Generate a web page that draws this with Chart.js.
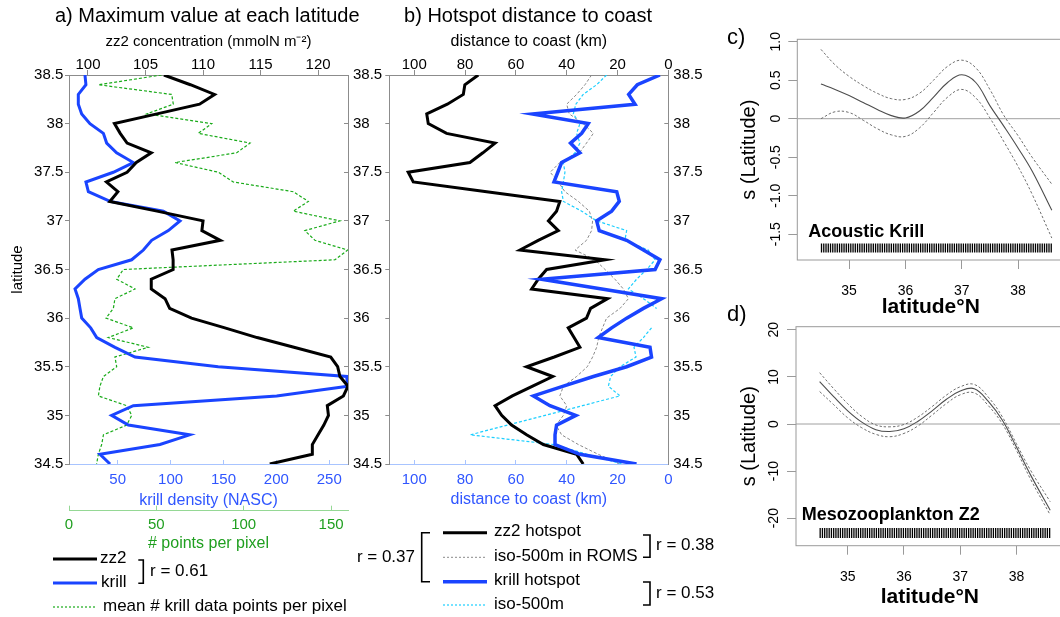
<!DOCTYPE html>
<html>
<head>
<meta charset="utf-8">
<script src="https://cdn.jsdelivr.net/npm/chart.js@4.4.1/dist/chart.umd.min.js"></script>
<style>
  html, body { margin: 0; padding: 0; background: #fff; overflow: hidden; }
  #wrap { position: relative; width: 1060px; height: 617px; overflow: hidden; background: #fff; }
  #wrap canvas { position: absolute; }
</style>
</head>
<body>
<div id="wrap">
  <canvas id="panelA" width="400" height="617" style="left:0;top:0;width:400px;height:617px"></canvas>
  <canvas id="panelB" width="365" height="617" style="left:355px;top:0;width:365px;height:617px"></canvas>
  <canvas id="panelC" width="350" height="330" style="left:720px;top:0;width:350px;height:330px"></canvas>
  <canvas id="panelD" width="350" height="317" style="left:720px;top:300px;width:350px;height:317px"></canvas>
</div>
<script>
// ---- latitude bins (deg N), north to south ----
const latitude = [38.5,38.4,38.3,38.2,38.1,38.0,37.9,37.8,37.7,37.6,37.5,37.4,37.3,37.2,37.1,37.0,36.9,36.8,36.7,36.6,
                  36.5,36.4,36.3,36.2,36.1,36.0,35.9,35.8,35.7,35.6,35.5,35.4,35.3,35.2,35.1,35.0,34.9,34.8,34.7,34.6,34.5];

// ---- a) maximum value at each latitude ----
const zz2Max = [106.6,108.9,111.0,109.7,106.0,102.3,102.8,103.4,105.5,104.2,103.4,101.6,102.6,101.9,106.0,110.0,109.9,111.5,107.3,107.4,
                107.4,105.5,105.5,106.7,107.1,109.0,111.9,114.7,117.9,121.1,121.7,121.9,122.6,122.2,120.8,120.9,120.5,120.0,119.5,119.5,115.8];
const krillMax = [19.1,20.0,12.8,12.8,16.0,23.8,36.5,39.6,49.0,64.8,45.9,20.0,22.3,42.8,93.2,108.9,97.9,82.1,74.3,63.2,
                  31.7,19.1,9.7,12.8,14.4,16.0,24.5,30.2,47.5,66.4,145.0,266.4,267.5,200.3,64.8,44.3,60.1,118.0,90.0,33.3,42.8];
const krillPointsPerPixel = [53.0,16.8,58.8,59.7,44.5,81.7,74.0,103.6,96.0,60.7,85.5,94.0,128.4,137.0,128.4,155.0,135.0,140.8,159.5,152.3,
                             31.1,27.3,37.8,26.3,25.4,21.2,36.8,22.5,45.4,26.3,27.3,19.7,17.7,16.8,33.0,35.9,33.0,19.7,18.7,16.8,15.8];

// ---- b) hotspot distance to coast (km) ----
const zz2HotspotKm = [74.8,80.1,80.7,87.0,95.1,94.5,87.3,68.2,73.0,78.1,102.4,100.4,71.5,42.7,44.0,47.2,43.3,51.2,58.4,24.9,
                      47.9,51.2,53.8,23.9,30.6,32.2,39.4,37.1,34.8,44.9,55.8,45.5,53.4,61.4,68.2,65.6,61.7,55.8,49.2,36.1,33.5];
const iso500RomsKm = [30.2,32.8,36.1,40.0,39.0,33.5,29.5,32.2,35.0,42.7,46.5,43.3,40.7,35.4,31.1,29.8,30.2,32.2,36.7,28.9,
                      24.9,21.0,17.7,15.7,19.0,24.3,25.9,27.4,28.2,29.8,31.9,36.1,41.3,42.7,40.0,41.3,44.2,42.0,35.4,27.6,19.0];
const krillHotspotKm = [3.3,12.2,15.6,13.1,53.5,31.5,34.1,38.5,34.8,42.0,43.5,45.0,20.3,19.3,22.3,28.2,27.2,16.4,9.8,3.3,
                        5.2,49.9,26.2,2.6,9.8,16.4,22.3,27.6,7.2,6.6,16.4,29.5,41.3,53.1,46.6,36.4,44.0,44.6,44.6,34.8,12.5];
const iso500Km = [24.3,28.2,33.5,36.4,37.4,34.8,36.1,34.8,36.7,41.3,40.7,41.3,42.0,41.3,34.1,28.2,16.4,17.1,7.9,5.2,
                  8.5,12.5,15.7,9.8,4.6,null,6.6,9.8,13.5,12.7,19.0,22.7,23.6,19.0,33.8,48.5,63.3,78.0,45.0,32.0,18.0];

// ---- c, d) GAM smooth of latitude with +/- 2 SE bands ----
const gamLat = [34.5,34.75,35.0,35.25,35.5,35.75,36.0,36.25,36.5,36.75,37.0,37.25,37.5,37.75,38.0,38.25,38.6];
const krillFit   = [0.45,0.38,0.30,0.21,0.12,0.04,0.01,0.10,0.28,0.47,0.57,0.47,0.17,-0.10,-0.38,-0.68,-1.19];
const krillUpper = [0.90,0.70,0.55,0.43,0.33,0.26,0.25,0.33,0.50,0.68,0.76,0.66,0.38,0.04,-0.22,-0.50,-0.85];
const krillLower = [0.00,0.09,0.08,-0.02,-0.13,-0.21,-0.23,-0.12,0.08,0.28,0.38,0.27,0.01,-0.30,-0.62,-0.98,-1.55];
const z2Fit   = [9.0,5.8,2.8,0.4,-1.2,-1.6,-1.0,0.6,2.8,5.2,7.0,7.5,4.8,0.8,-4.9,-10.8,-18.3];
const z2Upper = [10.9,7.5,4.3,1.6,-0.2,-0.6,-0.1,1.5,3.7,6.1,7.9,8.4,5.7,1.5,-4.2,-9.8,-16.5];
const z2Lower = [6.9,4.1,1.3,-0.8,-2.2,-2.7,-2.0,-0.4,1.9,4.3,6.2,6.6,3.9,0.0,-5.6,-11.7,-19.3];
// sampled latitudes shown as a rug
const rugLat = [34.51,34.55,34.59,34.63,34.67,34.71,34.75,34.79,34.83,34.87,34.91,34.95,34.99,35.03,35.07,35.11,35.15,35.19,35.23,35.27,
                35.31,35.35,35.39,35.43,35.47,35.51,35.55,35.59,35.63,35.67,35.71,35.75,35.79,35.83,35.87,35.91,35.95,35.99,36.03,36.07,
                36.11,36.15,36.19,36.23,36.27,36.31,36.35,36.39,36.43,36.47,36.51,36.55,36.59,36.63,36.67,36.71,36.75,36.79,36.83,36.87,
                36.91,36.95,36.99,37.03,37.07,37.11,37.15,37.19,37.23,37.27,37.31,37.35,37.39,37.43,37.47,37.51,37.55,37.59,37.63,37.67,
                37.71,37.75,37.79,37.83,37.87,37.91,37.95,37.99,38.03,38.07,38.11,38.15,38.19,38.23,38.27,38.31,38.35,38.39,38.43,38.47,
                38.51,38.55,38.59];

// ---- styling ----
const FONT = "'Liberation Sans', Arial, Helvetica, sans-serif";
const GREY_AX = '#8c8c8c';
const BLUE = '#1a44ff';
const BLUE_TXT = '#3056ff';
const BLUE_AX = '#a8c4ff';
const GREEN = '#1aab1a';
const GREEN_TXT = '#1f9f1f';
const GREEN_AX = '#95d895';
const CYAN = '#1ccfff';
const DASH_GREY = '#8a8a8a';

Chart.defaults.font.family = FONT;
Chart.defaults.color = '#000';

const f = (size, weight) => ({ family: FONT, size: size, weight: weight || 'normal', lineHeight: 1.2 });
const latLabel = v => String(v);
const alongLat = (values) => values.map((v, i) => ({ x: v, y: latitude[i] }));
const alongGam = (values) => values.map((v, i) => ({ x: gamLat[i], y: v }));

function text(ctx, s, x, y, size, opt) {
  opt = opt || {};
  ctx.save();
  ctx.font = (opt.weight || 'normal') + ' ' + size + 'px ' + FONT;
  ctx.fillStyle = opt.color || '#000';
  ctx.textAlign = opt.align || 'left';
  ctx.textBaseline = 'middle';
  ctx.fillText(s, x, y);
  ctx.restore();
}
function poly(ctx, pts, color, width, dash) {
  ctx.save();
  ctx.strokeStyle = color;
  ctx.lineWidth = width;
  ctx.setLineDash(dash || []);
  ctx.beginPath();
  ctx.moveTo(pts[0][0], pts[0][1]);
  for (let i = 1; i < pts.length; i++) ctx.lineTo(pts[i][0], pts[i][1]);
  ctx.stroke();
  ctx.restore();
}

const baseOptions = {
  responsive: false,
  animation: false,
  devicePixelRatio: 1,
  events: [],
  plugins: { legend: { display: false }, tooltip: { enabled: false } }
};
const lineStyle = (color, width, dash) => ({
  borderColor: color, borderWidth: width, borderDash: dash || [],
  showLine: true, pointRadius: 0, pointHoverRadius: 0, fill: false, tension: 0
});

// ================= panel a =================
new Chart(document.getElementById('panelA'), {
  type: 'scatter',
  data: {
    datasets: [
      Object.assign({ label: 'zz2', data: alongLat(zz2Max), xAxisID: 'xZ', yAxisID: 'y' }, lineStyle('#000', 3)),
      Object.assign({ label: 'krill', data: alongLat(krillMax), xAxisID: 'xK', yAxisID: 'y' }, lineStyle(BLUE, 3)),
      Object.assign({ label: 'mean # krill data points per pixel', data: alongLat(krillPointsPerPixel), xAxisID: 'xP', yAxisID: 'y' },
                    lineStyle(GREEN, 1.2, [3, 2]))
    ]
  },
  options: Object.assign({}, baseOptions, {
    layout: { padding: 0 },
    scales: {
      xZ: {
        type: 'linear', position: 'top', min: 98.35, max: 122.6,
        ticks: { stepSize: 5, includeBounds: false, padding: -4, font: f(15), color: '#000' },
        grid: { drawOnChartArea: false, tickLength: 5, color: GREY_AX },
        border: { color: GREY_AX },
        title: { display: true, text: 'zz2 concentration (mmolN m\u207B\u00B2)', font: f(15), padding: { top: 33, bottom: 0 } },
        afterFit: s => { s.height = 75; }
      },
      xK: {
        type: 'linear', position: 'bottom', weight: 0, min: 4, max: 267.7,
        ticks: { stepSize: 50, includeBounds: false, padding: 11, font: f(15), color: BLUE_TXT },
        grid: { drawOnChartArea: false, tickLength: -4, color: BLUE_AX },
        border: { color: BLUE_AX },
        title: { display: true, text: 'krill density (NASC)', color: BLUE_TXT, font: f(16), padding: { top: 0, bottom: 1 } },
        afterFit: s => { s.height = 46.7; }
      },
      xP: {
        type: 'linear', position: 'bottom', weight: 1, min: 0, max: 159.7,
        ticks: { stepSize: 50, includeBounds: false, padding: 10.3, font: f(15), color: GREEN_TXT },
        grid: { drawOnChartArea: false, tickLength: -5, color: GREEN_AX },
        border: { color: GREEN_AX },
        title: { display: true, text: '# points per pixel', color: GREEN_TXT, font: f(16), padding: { top: 0, bottom: 63.4 } },
        afterFit: s => { s.height = 106.3; }
      },
      y: {
        type: 'linear', position: 'left', min: 34.5, max: 38.5,
        ticks: { stepSize: 0.5, padding: 1.7, font: f(15), callback: latLabel },
        grid: { drawOnChartArea: false, tickLength: 4, color: GREY_AX },
        border: { color: GREY_AX },
        title: { display: true, text: 'latitude', font: f(15), padding: { top: 9.3, bottom: 0 } },
        afterFit: s => { s.width = 69; }
      },
      y2: {
        type: 'linear', position: 'right', min: 34.5, max: 38.5,
        ticks: { stepSize: 0.5, padding: 9, font: f(15), callback: latLabel },
        grid: { drawOnChartArea: false, tickLength: -4, color: GREY_AX },
        border: { color: GREY_AX },
        afterFit: s => { s.width = 52; }
      }
    }
  }),
  plugins: [{
    id: 'panelAText',
    afterDraw(chart) {
      const ctx = chart.ctx;
      text(ctx, 'a) Maximum value at each latitude', 55, 16, 20);
      poly(ctx, [[53, 559], [97, 559]], '#000', 3);
      text(ctx, 'zz2', 100, 558, 17);
      poly(ctx, [[53, 583], [97, 583]], BLUE, 3);
      text(ctx, 'krill', 101, 582, 17);
      poly(ctx, [[138.3, 560], [143.3, 560], [143.3, 583.3], [138.3, 583.3]], '#000', 1.6);
      text(ctx, 'r = 0.61', 150, 571, 17);
      poly(ctx, [[53, 607], [97, 607]], GREEN, 1.2, [2, 2]);
      text(ctx, 'mean # krill data points per pixel', 103, 606, 17);
    }
  }]
});

// ================= panel b =================
const OXB = 355;
new Chart(document.getElementById('panelB'), {
  type: 'scatter',
  data: {
    datasets: [
      Object.assign({ label: 'krill hotspot', data: alongLat(krillHotspotKm), xAxisID: 'xB', yAxisID: 'yL' }, lineStyle(BLUE, 3.5)),
      Object.assign({ label: 'zz2 hotspot', data: alongLat(zz2HotspotKm), xAxisID: 'xT', yAxisID: 'yL' }, lineStyle('#000', 3)),
      Object.assign({ label: 'iso-500m', data: alongLat(iso500Km), xAxisID: 'xB', yAxisID: 'yL' }, lineStyle(CYAN, 1.2, [3, 2])),
      Object.assign({ label: 'iso-500m in ROMS', data: alongLat(iso500RomsKm), xAxisID: 'xT', yAxisID: 'yL' }, lineStyle(DASH_GREY, 1, [3, 2]))
    ]
  },
  options: Object.assign({}, baseOptions, {
    layout: { padding: 0 },
    scales: {
      xT: {
        type: 'linear', position: 'top', min: 0, max: 109.84, reverse: true,
        ticks: { stepSize: 20, includeBounds: false, padding: -4, font: f(15), color: '#000' },
        grid: { drawOnChartArea: false, tickLength: 5, color: GREY_AX },
        border: { color: GREY_AX },
        title: { display: true, text: 'distance to coast (km)', font: f(16), padding: { top: 32, bottom: 0 } },
        afterFit: s => { s.height = 75; }
      },
      xB: {
        type: 'linear', position: 'bottom', min: 0, max: 109.84, reverse: true,
        ticks: { stepSize: 20, includeBounds: false, padding: 11, font: f(15), color: BLUE_TXT },
        grid: { drawOnChartArea: false, tickLength: -4, color: BLUE_AX },
        border: { color: BLUE_AX },
        title: { display: true, text: 'distance to coast (km)', color: BLUE_TXT, font: f(16), padding: { top: 0, bottom: 107.4 } },
        afterFit: s => { s.height = 153; }
      },
      yL: {
        type: 'linear', position: 'left', min: 34.5, max: 38.5,
        ticks: { stepSize: 0.5, display: false },
        grid: { drawOnChartArea: false, tickLength: 4, color: GREY_AX },
        border: { color: GREY_AX },
        afterFit: s => { s.width = 34.3; }
      },
      yR: {
        type: 'linear', position: 'right', min: 34.5, max: 38.5,
        ticks: { stepSize: 0.5, padding: 9, font: f(15), callback: latLabel },
        grid: { drawOnChartArea: false, tickLength: -4, color: GREY_AX },
        border: { color: GREY_AX },
        afterFit: s => { s.width = 51.7; }
      }
    }
  }),
  plugins: [{
    id: 'panelBText',
    afterDraw(chart) {
      const ctx = chart.ctx;
      const X = v => v - OXB;
      text(ctx, 'b) Hotspot distance to coast', X(528), 16, 20, { align: 'center' });
      poly(ctx, [[X(443), 532.7], [X(487), 532.7]], '#000', 3);
      text(ctx, 'zz2 hotspot', X(494), 531, 17);
      poly(ctx, [[X(443), 557.3], [X(487), 557.3]], DASH_GREY, 1, [2, 2]);
      text(ctx, 'iso-500m in ROMS', X(494), 556.5, 17);
      poly(ctx, [[X(443), 581.7], [X(487), 581.7]], BLUE, 3.5);
      text(ctx, 'krill hotspot', X(494), 580.5, 17);
      poly(ctx, [[X(443), 605], [X(487), 605]], CYAN, 1.2, [2, 2]);
      text(ctx, 'iso-500m', X(494), 604.5, 17);
      poly(ctx, [[X(430), 532.7], [X(421.7), 532.7], [X(421.7), 581.7], [X(430), 581.7]], '#000', 1.6);
      text(ctx, 'r = 0.37', X(415), 557.5, 17, { align: 'right' });
      poly(ctx, [[X(643), 535], [X(650), 535], [X(650), 557.3], [X(643), 557.3]], '#000', 1.6);
      text(ctx, 'r = 0.38', X(656), 545.5, 17);
      poly(ctx, [[X(643), 582], [X(650), 582], [X(650), 605], [X(643), 605]], '#000', 1.6);
      text(ctx, 'r = 0.53', X(656), 593, 17);
    }
  }]
});

// ================= panels c and d (GAM smooths) =================
const frame = {
  id: 'frame',
  beforeDatasetsDraw(chart) {
    const a = chart.chartArea, ctx = chart.ctx;
    ctx.save();
    ctx.strokeStyle = '#9a9a9a';
    ctx.lineWidth = 1;
    ctx.strokeRect(a.left, a.top, a.right - a.left, a.bottom - a.top);
    ctx.restore();
  }
};

function gamChart(canvasId, cfg) {
  const rug = rugLat.map(x => ({ x: x, y: cfg.rugY }));
  return new Chart(document.getElementById(canvasId), {
    type: 'scatter',
    data: {
      datasets: [
        Object.assign({ label: 'fit', data: alongGam(cfg.fit) }, lineStyle('#4d4d4d', 1.1), { tension: 0.4 }),
        Object.assign({ label: 'upper', data: alongGam(cfg.upper) }, lineStyle('#6f6f6f', 1, [2.5, 2]), { tension: 0.4 }),
        Object.assign({ label: 'lower', data: alongGam(cfg.lower) }, lineStyle('#6f6f6f', 1, [2.5, 2]), { tension: 0.4 }),
        Object.assign({ label: 'zero', data: [{ x: cfg.xMin, y: 0 }, { x: cfg.xMax, y: 0 }] }, lineStyle('#a0a0a0', 1)),
        { label: 'rug', data: rug, showLine: false, pointStyle: 'line', pointRotation: 90, pointRadius: cfg.rugHalf,
          pointHoverRadius: cfg.rugHalf, pointBorderColor: '#000', pointBorderWidth: 1.3, borderColor: '#000' }
      ]
    },
    options: Object.assign({}, baseOptions, {
      layout: { padding: { top: cfg.padTop, left: 0, right: 0, bottom: 0 } },
      scales: {
        x: {
          type: 'linear', position: 'bottom', min: cfg.xMin, max: cfg.xMax,
          ticks: { stepSize: 1, includeBounds: false, padding: 13.6, font: f(14) },
          grid: { drawOnChartArea: false, tickLength: 9, color: '#9a9a9a' },
          border: { display: false },
          title: { display: true, text: 'latitude\u00B0N', font: f(21, 'bold'), padding: { top: 0, bottom: cfg.xTitlePad } },
          afterFit: s => { s.height = cfg.xHeight; }
        },
        y: {
          type: 'linear', position: 'left', min: cfg.yMin, max: cfg.yMax,
          ticks: { stepSize: cfg.yStep, includeBounds: false, minRotation: 90, maxRotation: 90, crossAlign: 'center',
                   padding: cfg.yTickPad, font: f(14) },
          grid: { drawOnChartArea: false, tickLength: 9, color: '#9a9a9a' },
          border: { display: false },
          title: { display: true, text: 's (Latitude)', font: f(20), padding: { top: 17, bottom: 0 } },
          afterFit: s => { s.width = cfg.yWidth; }
        }
      }
    }),
    plugins: [frame, {
      id: 'gamText',
      afterDraw(chart) {
        const ctx = chart.ctx;
        text(ctx, cfg.panel, 7, cfg.panelY, 22);
        text(ctx, cfg.name, cfg.nameX, cfg.nameY, 18, { weight: 'bold' });
      }
    }]
  });
}

gamChart('panelC', {
  fit: krillFit, upper: krillUpper, lower: krillLower,
  xMin: 34.08, xMax: 38.82, yMin: -1.835, yMax: 1.031, yStep: 0.5,
  padTop: 39.3, xHeight: 70, xTitlePad: 10.4, yWidth: 77.3, yTickPad: -0.4,
  rugY: -1.679, rugHalf: 4.5,
  panel: 'c)', panelY: 38, name: 'Acoustic Krill', nameX: 88.3, nameY: 232
});

gamChart('panelD', {
  fit: z2Fit, upper: z2Upper, lower: z2Lower,
  xMin: 34.08, xMax: 38.84, yMin: -25.84, yMax: 20.66, yStep: 10,
  padTop: 26.7, xHeight: 71.3, xTitlePad: 6.9, yWidth: 76, yTickPad: 3,
  rugY: -23.14, rugHalf: 5,
  panel: 'd)', panelY: 15, name: 'Mesozooplankton Z2', nameX: 81.7, nameY: 215
});
</script>
</body>
</html>
